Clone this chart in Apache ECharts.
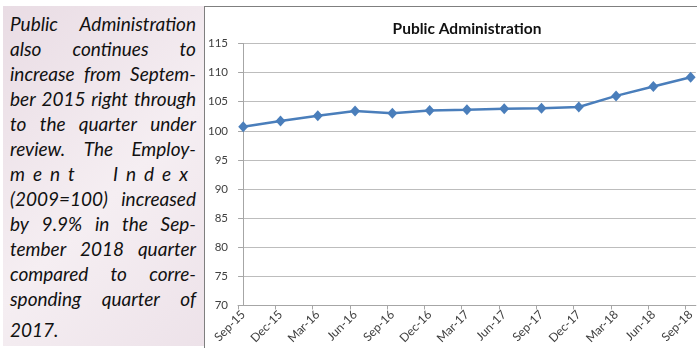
<!DOCTYPE html>
<html>
<head>
<meta charset="utf-8">
<script src="https://cdn.jsdelivr.net/npm/echarts@6/dist/echarts.min.js"></script>
<style>
    html, body { margin: 0; padding: 0; background: #ffffff; }
    #main { position: absolute; left: 0; top: 0; width: 697px; height: 348px; }
    #frame { position: absolute; left: 204px; top: 6px; width: 493px; height: 342px;
        border-top: 1px solid #7f7f7f; border-left: 1px solid #7f7f7f; box-sizing: border-box; pointer-events: none; }
    #panel { position: absolute; left: 3px; top: 6px; width: 201px; height: 340px; box-sizing: border-box;
        padding: 5px 8px 0 7px;
        background: linear-gradient(135deg, #e9dce4 0%, #f5eef2 55%, #ede2e9 100%);
        font-family: Lato, "Open Sans", sans-serif; font-style: italic; font-size: 19px; color: #111; }
    .ln { display: flex; justify-content: space-between; height: 25px; line-height: 25px; white-space: nowrap; }
    .ln.last { justify-content: flex-start; margin-top: 6px; }
    .ln.spread span { letter-spacing: 8px; }
</style>
</head>
<body>
<div id="main"></div>
<div id="frame"></div>
<div id="panel"></div>
<script>
// data
const categories = ["Sep-15", "Dec-15", "Mar-16", "Jun-16", "Sep-16", "Dec-16", "Mar-17",
    "Jun-17", "Sep-17", "Dec-17", "Mar-18", "Jun-18", "Sep-18"];
const values = [100.7, 101.7, 102.6, 103.4, 103.0, 103.5, 103.6, 103.8, 103.9, 104.1, 106.0, 107.6, 109.2];
const yMin = 70;
const yMax = 115;
const yStep = 5;
const textLines = [
    "Public Administration",
    "also continues to",
    "increase from Septem-",
    "ber 2015 right through",
    "to the quarter under",
    "review. The Employ-",
    "ment Index",
    "(2009=100) increased",
    "by 9.9% in the Sep-",
    "tember 2018 quarter",
    "compared to corre-",
    "sponding quarter of",
    "2017."
];

// left text panel, each line justified word by word
const panel = document.getElementById("panel");
textLines.forEach((t, i) => {
    const row = document.createElement("div");
    row.className = "ln";
    if (i === textLines.length - 1) row.className += " last";
    if (t === "ment Index") row.className += " spread";
    t.split(" ").forEach(w => {
        const s = document.createElement("span");
        s.textContent = w;
        row.appendChild(s);
    });
    panel.appendChild(row);
});

// ticks sit a little left of the points, like the original
const tickShift = 0.14;
const seriesData = values.map((v, i) => [i, v]);

var myChart = echarts.init(document.getElementById("main"));
var option = {
    animation: false,
    title: {
        text: "Public Administration",
        left: 462,
        textAlign: "center",
        top: 16,
        textStyle: { fontFamily: "Lato", fontWeight: "bold", fontSize: 15.5, color: "#111" }
    },
    grid: { left: 238, right: 0, top: 43.5, bottom: 42.5 },
    xAxis: {
        type: "value",
        min: -tickShift,
        max: 12.14,
        axisLine: { show: true, lineStyle: { color: "#a6a6a6", width: 1 } },
        axisTick: {
            show: true, length: 4, lineStyle: { color: "#a6a6a6" },
            customValues: categories.map((c, i) => i - tickShift)
        },
        splitLine: { show: false },
        axisLabel: {
            customValues: categories.map((c, i) => i),
            formatter: v => categories[Math.round(v)] || "",
            rotate: 45,
            margin: 7,
            fontFamily: "Lato",
            fontSize: 12,
            color: "#404040"
        }
    },
    yAxis: {
        type: "value",
        min: yMin,
        max: yMax,
        interval: yStep,
        axisLine: { show: true, lineStyle: { color: "#a6a6a6", width: 1 } },
        axisTick: { show: true, length: 5, lineStyle: { color: "#a6a6a6" } },
        splitLine: { show: true, lineStyle: { color: "#bdbdbd", width: 1 } },
        axisLabel: { margin: 10, fontFamily: "Lato", fontSize: 11.5, color: "#404040" }
    },
    series: [{
        type: "line",
        data: seriesData,
        symbol: "diamond",
        symbolSize: [10, 11],
        lineStyle: { color: "#4a7ebb", width: 2.5 },
        itemStyle: { color: "#4a7ebb" }
    }]
};
myChart.setOption(option);
</script>
</body>
</html>
